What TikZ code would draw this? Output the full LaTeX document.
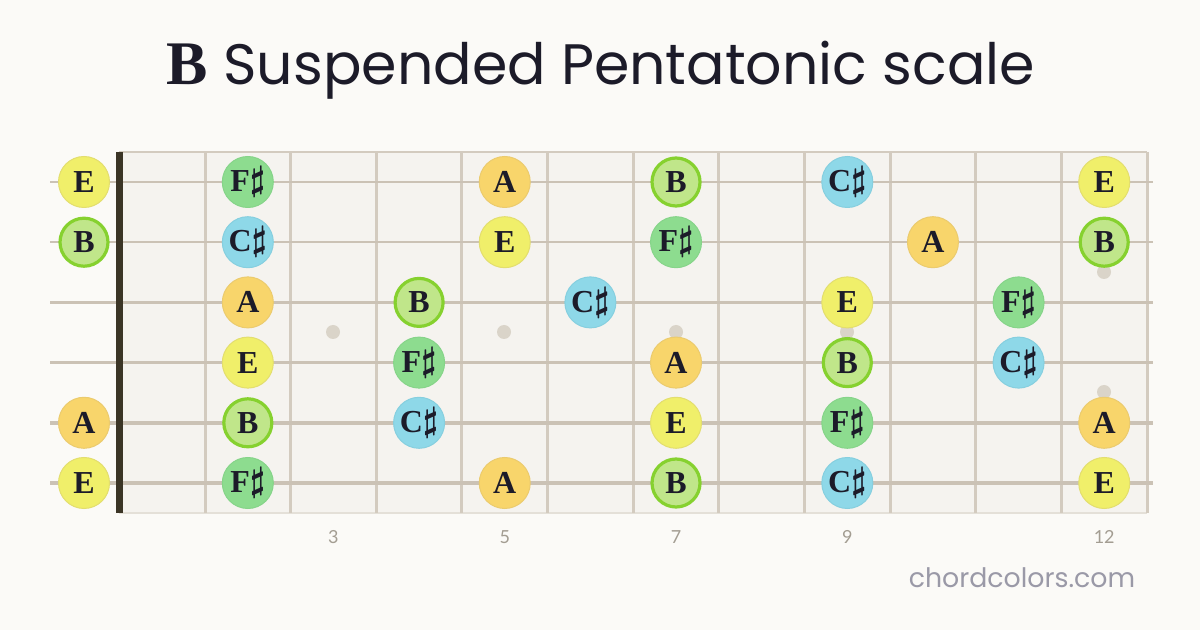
\documentclass[tikz,border=0pt]{standalone}
\usepackage{fontspec}
\newfontfamily\titlefont{Poppins}
\newfontfamily\notefont{Liberation Serif}
\newfontfamily\numfont{Lato}
\definecolor{pagebg}{HTML}{FBFAF7}
\definecolor{boardbg}{HTML}{F5F3EF}
\definecolor{fretcol}{HTML}{D3CBBF}
\definecolor{stringcol}{HTML}{CBC2B5}
\definecolor{nutcol}{HTML}{3B3526}
\definecolor{ink}{HTML}{1C1B29}
\definecolor{dotcol}{HTML}{DAD4C9}
\definecolor{numcol}{HTML}{A39D92}
\definecolor{sitecol}{HTML}{9A99A7}
\definecolor{efill}{HTML}{F0EF6A}
\definecolor{eline}{HTML}{E3DE6E}
\definecolor{fsfill}{HTML}{8DDC8F}
\definecolor{fsline}{HTML}{86D489}
\definecolor{afill}{HTML}{F8D56B}
\definecolor{aline}{HTML}{EBCB6E}
\definecolor{bfill}{HTML}{C0E68A}
\definecolor{bline}{HTML}{86D12F}
\definecolor{csfill}{HTML}{8ED8E8}
\definecolor{csline}{HTML}{86CFDF}
\newcommand{\sh}{\raisebox{0.5pt}{\boldmath$\sharp$}}

\tikzset{
  note/.style={circle, minimum size=25.5pt, inner sep=0pt, line width=0.5pt, text=ink,
    font=\notefont\fontsize{16}{16}\selectfont\bfseries},
  nE/.style={note, fill=efill, draw=eline},
  nFs/.style={note, fill=fsfill, draw=fsline},
  nA/.style={note, fill=afill, draw=aline},
  nB/.style={note, fill=bfill, draw=bline, line width=1.6pt, minimum size=24pt},
  nCs/.style={note, fill=csfill, draw=csline},
  inlay/.style={circle, fill=dotcol, minimum size=7pt, inner sep=0pt},
  fretnum/.style={font=\numfont\fontsize{9}{9}\selectfont, text=numcol}
}

\begin{document}
\begin{tikzpicture}[x=0.5pt,y=-0.5pt]
\useasboundingbox (0,0) rectangle (1200,630);
\fill[pagebg] (0,0) rectangle (1200,630);

% Title
\node[font=\titlefont\fontsize{28.5}{32}\selectfont, text=ink] (title) at (601,70)
  {{\notefont\bfseries\fontsize{31}{32}\selectfont B} Suspended Pentatonic scale};

% Fretboard
\fill[boardbg] (119,152) rectangle (1147,513);
\draw[fretcol, line width=0.8pt] (119,152) -- (1147,152);
\draw[fretcol!60, line width=0.8pt] (119,513) -- (1147,513);
\foreach \i in {1,...,12}
  \draw[fretcol, line width=1.5pt] (119.36+85.64*\i,152) -- (119.36+85.64*\i,513);

% Inlays
\foreach \x/\y [count=\k] in {333/332, 504/332, 676/332, 847/332, 1104/272, 1104/392}
  \node[inlay] (dot\k) at (\x,\y) {};

% Strings
\foreach \k in {1,...,6}
  \draw[stringcol, line width={0.75pt+0.25pt*\k}] (50,121.8+60.2*\k) -- (1153,121.8+60.2*\k);

% Nut
\fill[nutcol] (116,152) rectangle (123,513);

% Notes (string/fret/name/style)
\foreach \s/\f/\n/\st in {
  1/0/E/nE, 1/2/F\sh/nFs, 1/5/A/nA, 1/7/B/nB, 1/9/C\sh/nCs, 1/12/E/nE,
  2/0/B/nB, 2/2/C\sh/nCs, 2/5/E/nE, 2/7/F\sh/nFs, 2/10/A/nA, 2/12/B/nB,
  3/2/A/nA, 3/4/B/nB, 3/6/C\sh/nCs, 3/9/E/nE, 3/11/F\sh/nFs,
  4/2/E/nE, 4/4/F\sh/nFs, 4/7/A/nA, 4/9/B/nB, 4/11/C\sh/nCs,
  5/0/A/nA, 5/2/B/nB, 5/4/C\sh/nCs, 5/7/E/nE, 5/9/F\sh/nFs, 5/12/A/nA,
  6/0/E/nE, 6/2/F\sh/nFs, 6/5/A/nA, 6/7/B/nB, 6/9/C\sh/nCs, 6/12/E/nE}
{
  \ifnum\f=0
    \node[\st] (n\s-\f) at (84,121.8+60.2*\s) {\n};
  \else
    \node[\st] (n\s-\f) at (76.54+85.64*\f,121.8+60.2*\s) {\n};
  \fi
}

% Fret numbers
\foreach \f in {3,5,7,9,12}
  \node[fretnum] (num\f) at (76.54+85.64*\f,537) {\f};

\node[font=\titlefont\fontsize{13.4}{14}\selectfont, text=sitecol] (site) at (1022,578) {chordcolors.com};
\end{tikzpicture}
\end{document}
